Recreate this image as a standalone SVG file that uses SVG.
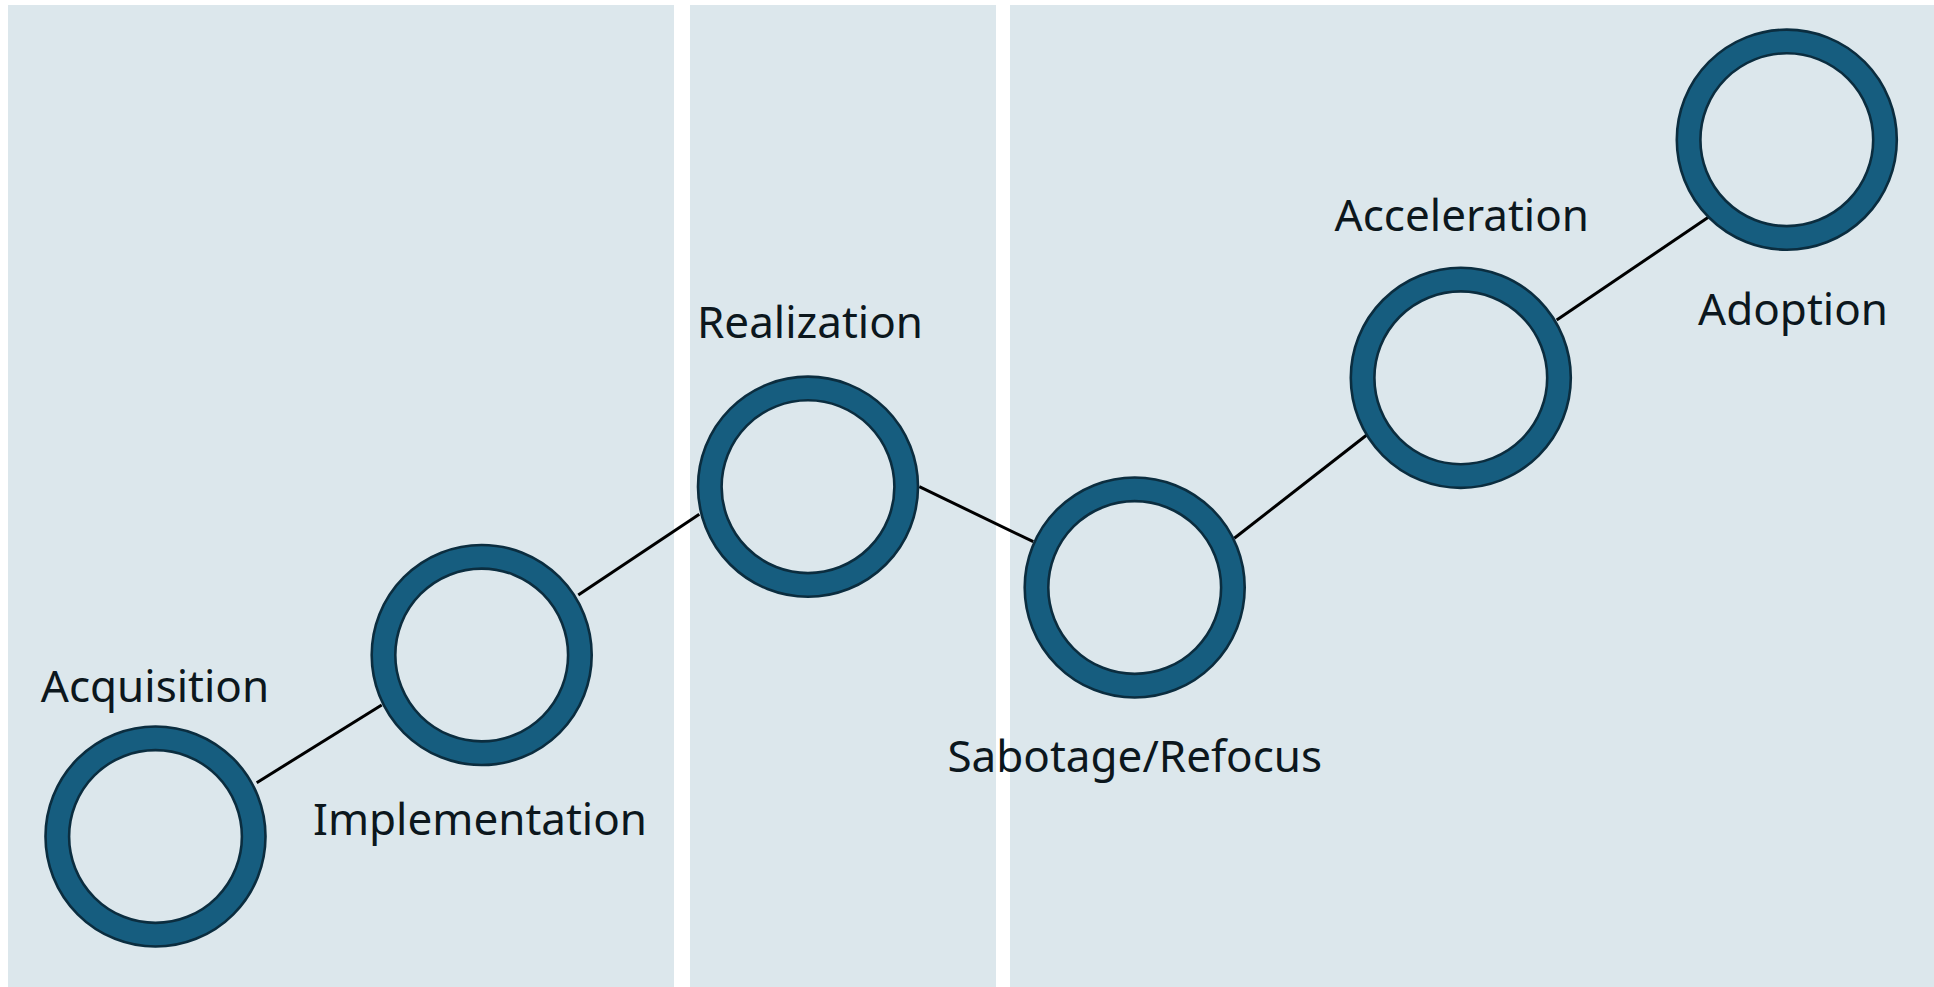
<svg xmlns="http://www.w3.org/2000/svg" xmlns:xlink="http://www.w3.org/1999/xlink" width="1934" height="987" viewBox="0 0 1934 987">
<style>
.panel{fill:#dce7ec}
.ring{fill:#165d7f;fill-rule:evenodd;stroke:#0b2d3f;stroke-width:2.6}
.lbl{font-family:"Noto Sans","Liberation Sans",sans-serif;font-size:44px;fill:#0c171d;text-anchor:middle}
.conn{stroke:#000;stroke-width:3;fill:none}
</style>
<defs>
<path id="ringShape" d="M-110,0 A110,110 0 1,0 110,0 A110,110 0 1,0 -110,0 Z M-86.4,0 A86.4,86.4 0 1,1 86.4,0 A86.4,86.4 0 1,1 -86.4,0 Z"/>
</defs>
<rect width="1934" height="987" fill="#ffffff"/>
<g id="panels">
<rect class="panel" x="8" y="5" width="666" height="982"/>
<rect class="panel" x="690" y="5" width="306" height="982"/>
<rect class="panel" x="1010" y="5" width="924" height="982"/>
</g>
<g id="connectors">
<line class="conn" x1="256.7" y1="782.7" x2="381.7" y2="705"/>
<line class="conn" x1="578.3" y1="595" x2="699.3" y2="514.3"/>
<line class="conn" x1="919.3" y1="486.7" x2="1033.3" y2="541.7"/>
<line class="conn" x1="1234.3" y1="538.3" x2="1366.7" y2="435"/>
<line class="conn" x1="1556.7" y1="320" x2="1708.3" y2="217.3"/>
</g>
<g id="node-acquisition">
<use xlink:href="#ringShape" class="ring" transform="translate(155.5,836.5)"/>
<text class="lbl" x="155" y="701.7">Acquisition</text>
</g>
<g id="node-implementation">
<use xlink:href="#ringShape" class="ring" transform="translate(481.7,655)"/>
<text class="lbl" x="480" y="835">Implementation</text>
</g>
<g id="node-realization">
<use xlink:href="#ringShape" class="ring" transform="translate(808,486.7)"/>
<text class="lbl" x="810" y="338.3">Realization</text>
</g>
<g id="node-sabotage">
<use xlink:href="#ringShape" class="ring" transform="translate(1134.7,587.5)"/>
<text class="lbl" x="1134.8" y="771.7">Sabotage/Refocus</text>
</g>
<g id="node-acceleration">
<use xlink:href="#ringShape" class="ring" transform="translate(1460.8,377.8)"/>
<text class="lbl" x="1461.8" y="231">Acceleration</text>
</g>
<g id="node-adoption">
<use xlink:href="#ringShape" class="ring" transform="translate(1786.8,139.7)"/>
<text class="lbl" x="1793" y="325">Adoption</text>
</g>
</svg>
